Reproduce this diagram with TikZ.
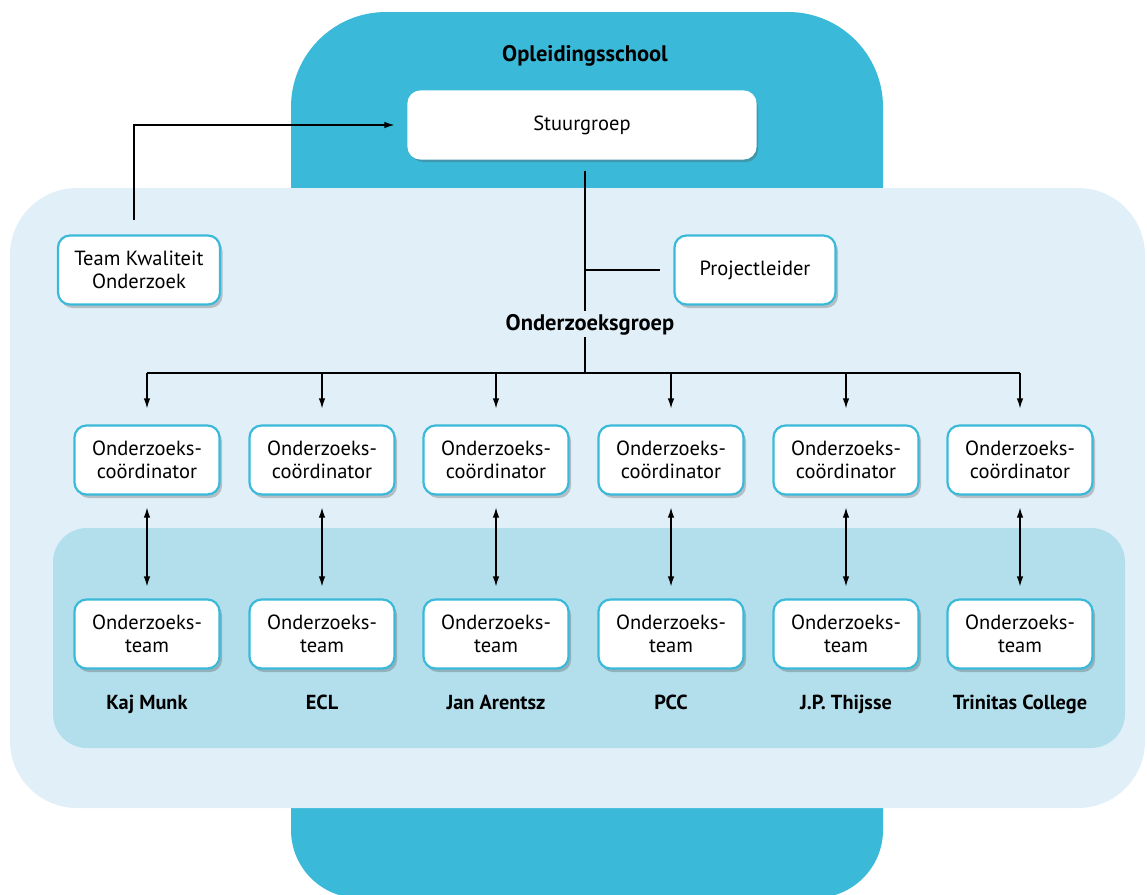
\documentclass[tikz,border=0pt]{standalone}
\usepackage{fontspec}
\setmainfont{PT Sans}
\usetikzlibrary{arrows.meta,shadows}
\definecolor{dblue}{HTML}{3AB9D9}
\definecolor{lblue}{HTML}{E1F0F8}
\definecolor{mblue}{HTML}{B3DEEC}
\begin{document}
\begin{tikzpicture}[x=1pt,y=-1pt,
  box/.style={draw=dblue, line width=2.2pt, fill=white, rounded corners=12pt,
    minimum width=145pt, minimum height=69pt, align=center, inner sep=2pt,
    font=\fontsize{20.5}{23}\selectfont,
    drop shadow={shadow xshift=2.5pt, shadow yshift=-3.5pt, opacity=0.3, fill=black!70}},
  lab/.style={font=\fontsize{22.5}{26}\selectfont\bfseries, inner sep=0pt, anchor=base},
  school/.style={lab, font=\fontsize{20.3}{24}\selectfont\bfseries},
  conn/.style={draw=black, line width=1.2pt},
  arr/.style={conn, -{Latex[length=10pt,width=6.5pt]}},
  arr2/.style={conn, {Latex[length=10pt,width=6.5pt]}-{Latex[length=10pt,width=6.5pt]}}]
\useasboundingbox (0,0) rectangle (1147,894);
% backgrounds
\fill[dblue, rounded corners=95pt] (291,12) rectangle (883,500);
\fill[dblue, rounded corners=68pt] (291,400) rectangle (883,898);
\fill[lblue, rounded corners=67pt] (10,188) rectangle (1145,808);
\fill[mblue, rounded corners=34pt] (53,528) rectangle (1125,748);
% titles
\node[lab] (os) at (585,61) {Opleidingsschool};
\node[lab] (og) at (590,330) {Onderzoeksgroep};
% top boxes
\node[box, minimum width=347pt, minimum height=67pt, draw=white] (stuur) at (582,125) {Stuurgroep};
\node[box, minimum width=162pt] (tk) at (139,270) {Team Kwaliteit\\Onderzoek};
\node[box, minimum width=161pt] (pl) at (755,270) {Projectleider};
% coordinators and teams
\foreach \i/\x/\name in {1/147/Kaj Munk,2/322/ECL,3/496/Jan Arentsz,4/671/PCC,5/846/J.P. Thijsse,6/1020/Trinitas College}{
  \node[box] (c\i) at (\x,460) {Onderzoeks-\\coördinator};
  \node[box] (t\i) at (\x,634) {Onderzoeks-\\team};
  \node[school] (l\i) at (\x,709) {\name};
}
% connectors
\coordinate (j1) at (585,270);
\coordinate (bus) at (585,373);
\draw[conn] ([xshift=3pt,yshift=-11pt]stuur.south) -- ([xshift=-5pt,yshift=3pt]og.north);
\draw[conn] (j1) -- ([xshift=-13pt]pl.west);
\draw[conn] ([xshift=-5pt,yshift=-2pt]og.south) -- (bus);
\draw[conn] (c1.north |- bus) -- (c6.north |- bus);
\foreach \i in {1,...,6}{
  \draw[arr] (c\i.north |- bus) -- ([yshift=16pt]c\i.north);
  \draw[arr2] ([yshift=-12pt]c\i.south) -- ([yshift=12pt]t\i.north);
}
\draw[arr] ([xshift=-5pt,yshift=14pt]tk.north) |- ([xshift=-13pt]stuur.west);
\end{tikzpicture}
\end{document}
